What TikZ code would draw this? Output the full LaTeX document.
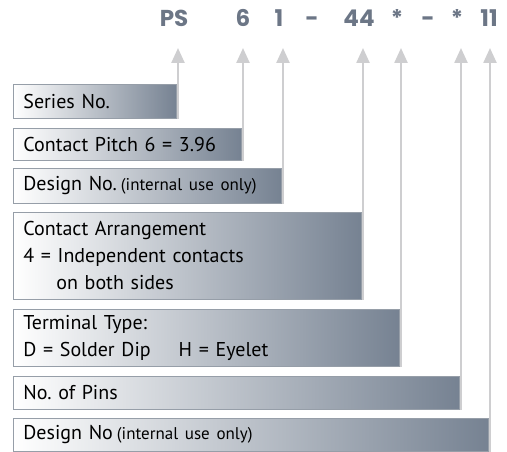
\documentclass[tikz,border=0pt]{standalone}
\usepackage{fontspec}
\setmainfont{PT Sans}
\newfontfamily\codefont{Poppins}
\usepackage{tikz}
\usetikzlibrary{arrows.meta,calc,positioning}
\definecolor{slatecolor}{RGB}{118,130,146}
\definecolor{codecolor}{RGB}{108,118,134}
\definecolor{edgecolor}{RGB}{150,158,168}
\definecolor{linecolor}{RGB}{206,206,208}
\frenchspacing

\tikzset{
  partbox/.style={draw=edgecolor, line width=0.8pt, left color=white, right color=slatecolor,
    rectangle, anchor=north west, align=left, inner xsep=10pt, inner ysep=0pt,
    font=\fontsize{20}{27}\selectfont},
  conn/.style={draw=linecolor, line width=2.4pt, -{Triangle[width=13pt,length=15pt]}},
  codetxt/.style={font=\codefont\bfseries\fontsize{23}{23}\selectfont, text=codecolor, anchor=base, inner sep=0pt}
}
\newcommand{\smalltxt}[1]{{\fontsize{17}{27}\selectfont #1}}

\begin{document}
\begin{tikzpicture}[x=1pt,y=-1pt]
        \useasboundingbox (0,0) rectangle (507,452);

        % part number
        \node[codetxt] (cPS) at (174,27) {PS};
        \node[codetxt] (c6) at (243,27) {6};
        \node[codetxt] (c1) at (279,27) {1};
        \node[codetxt] (cd1) at (312,27) {-};
        \node[codetxt] (c44) at (359,27) {44};
        \node[codetxt] (cs1) at (397,27) {*};
        \node[codetxt] (cd2) at (428,27) {-};
        \node[codetxt] (cs2) at (457,27) {*};
        \node[codetxt] (c11) at (489,27) {11};
        \coordinate (tip) at (0,48);

        % boxes
        \node[partbox, text width=143pt, minimum height=34pt] (series) at (13,84) {Series No.};
        \node[partbox, text width=208pt, minimum height=32pt] (pitch) at (13,128) {Contact Pitch 6 = 3.96};
        \node[partbox, text width=248pt, minimum height=35pt] (design) at (13,168) {Design No.\hspace{4pt}\smalltxt{(internal use only)}};
        \node[partbox, text width=328pt, minimum height=87pt] (arrange) at (13,212)
          {Contact Arrangement\\4 = Independent contacts\\\hspace*{33pt}on both sides};
        \node[partbox, text width=366pt, minimum height=57pt] (terminal) at (13,309)
          {Terminal Type:\\D = Solder Dip\hspace{28pt}H = Eyelet};
        \node[partbox, text width=426pt, minimum height=33pt] (pins) at (13,376) {No. of Pins};
        \node[partbox, text width=455pt, minimum height=33pt] (designno) at (13,418) {Design No\hspace{4pt}\smalltxt{(internal use only)}};

        % arrows
        \foreach \b in {series,pitch,design,arrange,terminal,pins,designno}
          \draw[conn] ($(\b.south east)+(1.2,0)$) -- ($(\b.south east |- tip)+(1.2,0)$);
\end{tikzpicture}
\end{document}
